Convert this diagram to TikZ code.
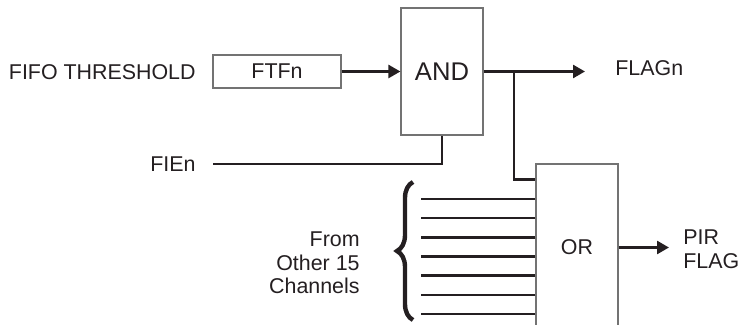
\documentclass[tikz,border=0pt]{standalone}
\usepackage{fontspec}
\setmainfont{Liberation Sans}
\usepackage{tikz}
\usetikzlibrary{arrows.meta, positioning, calc, decorations.pathreplacing}
\definecolor{inkblack}{rgb}{0.14,0.12,0.13}
\definecolor{boxgray}{rgb}{0.45,0.45,0.45}

\begin{document}
\begin{tikzpicture}[x=0.5pt, y=-0.5pt,
    every node/.style={font=\fontsize{10.7}{11.75}\selectfont, text=inkblack, inner sep=0pt},
    gatebox/.style={draw=boxgray, line width=0.6pt, minimum width=41pt},
    wire/.style={draw=inkblack, line width=1.3pt},
    sig/.style={wire, -{Triangle[length=6pt, width=6.5pt]}}]
    \clip (0,0) rectangle (754,325);

    % FIFO threshold register
    \node[gatebox, minimum width=64pt, minimum height=16.5pt] (ftf) at (277,71.5) {\raisebox{-2pt}{FTFn}};
    \node[anchor=east] (thr) at (196,72) {FIFO THRESHOLD};

    % AND gate
    \node[gatebox, minimum height=63.5pt, font=\fontsize{12.8}{14}\selectfont] (and) at (442,71.5) {AND};
    \draw[sig] (ftf.east) -- (and.west |- ftf.east);

    % Interrupt enable
    \node[anchor=east] (fie) at (196,164) {FIEn};
    \coordinate (fiestart) at (213,164);
    \draw[wire] (fiestart) -| (and.south);

    % FLAGn output
    \node[anchor=west] (flag) at (615,68) {FLAGn};
    \coordinate (flagend) at (585,71.5);
    \draw[sig] (and.east) -- (flagend);

    % OR gate
    \node[gatebox, minimum height=83.5pt] (or) at (577,247.5) {OR};
    \coordinate (tap) at (514,71.5);
    \draw[wire] (tap) |- ([yshift=-8pt]or.north west);

    % Other 15 channels
    \foreach \i [evaluate=\i as \y using 199+19.17*\i] in {0,...,6}
        \draw[wire] (or.west |- 0,\y) -- ++(-114,0);
    \draw[inkblack, line width=2.2pt, decorate, decoration={brace, amplitude=8pt}] (413,320) -- (413,182);
    \node[anchor=east, align=right] (other) at (360,263) {From\\Other 15\\Channels};

    % PIR flag output
    \node[anchor=west, align=left, font=\fontsize{10.7}{12}\selectfont] (pir) at (683,249) {PIR\\FLAG};
    \draw[sig] (or.east) -- (or.east -| 669,0);
\end{tikzpicture}
\end{document}
